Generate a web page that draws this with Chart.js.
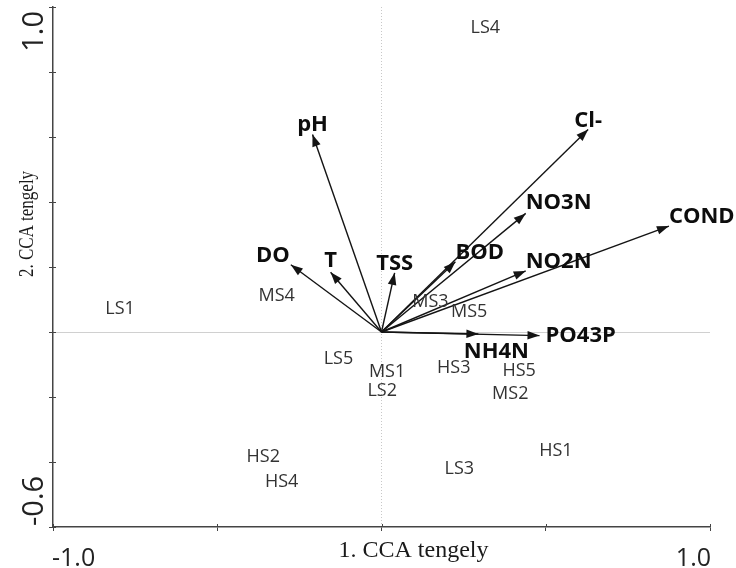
<!DOCTYPE html>
<html>
<head>
<meta charset="utf-8">
<title>CCA biplot</title>
<script src="https://cdn.jsdelivr.net/npm/chart.js@4/dist/chart.umd.min.js"></script>
<style>
  html, body { margin: 0; padding: 0; background: #fff; }
  #wrap { position: relative; width: 736px; height: 568px; }
</style>
</head>
<body>
<div id="wrap"><canvas id="cca"></canvas></div>
<script>
// environmental variables (arrow tips on CCA axis 1 / axis 2)
const envNames = ["pH", "DO", "T", "TSS", "BOD", "Cl-", "NO3N", "COND", "NO2N", "PO43P", "NH4N"];
const envAxis1 = [-0.210, -0.276, -0.155, 0.040, 0.225, 0.629, 0.439, 0.875, 0.439, 0.481, 0.295];
const envAxis2 = [0.608, 0.207, 0.184, 0.182, 0.216, 0.623, 0.365, 0.326, 0.188, -0.011, -0.006];

// sampling sites (scores on CCA axis 1 / axis 2)
const siteNames = ["LS4", "LS1", "MS4", "MS3", "MS5", "LS5", "MS1", "LS2", "HS3", "HS5", "MS2", "HS2", "HS4", "LS3", "HS1"];
const siteAxis1 = [0.316, -0.796, -0.319, 0.149, 0.267, -0.131, 0.017, 0.002, 0.220, 0.419, 0.392, -0.360, -0.304, 0.237, 0.531];
const siteAxis2 = [0.937, 0.071, 0.111, 0.092, 0.061, -0.083, -0.124, -0.182, -0.111, -0.121, -0.190, -0.385, -0.462, -0.421, -0.366];

// axis end labels
const xTickValues = [-1.0, 1.0];
const xTickLabels = ["-1.0", "1.0"];
const yTickValues = [-0.6, 1.0];
const yTickLabels = ["-0.6", "1.0"];
const xTitle = "1. CCA tengely";
const yTitle = "2. CCA tengely";

// where each arrow label sits relative to its tip: [align, dx, dy] (px, to baseline)
const envLabelPlace = [
  ["center", 0, -3], ["right", -1, -3], ["center", 0, -5], ["center", 0, -3],
  ["left", 0, -3], ["center", 0, -3], ["left", 0, -4], ["left", 0, -3],
  ["left", 0, -3], ["left", 6, 6], ["center", 18, 24],
];

const SANS = "'Open Sans', 'Noto Sans', sans-serif";
const SERIF = "'Liberation Serif', 'DejaVu Serif', serif";
const AXIS = "#444";

const isZero = (v) => Math.abs(v) < 1e-9;

const arrowDatasets = envNames.map((name, i) => ({
  label: name,
  data: [{ x: 0, y: 0 }, { x: envAxis1[i], y: envAxis2[i] }],
  showLine: true,
  arrow: true,
  borderColor: "#141414",
  borderWidth: 1.4,
  pointRadius: 0,
  pointHoverRadius: 0,
}));

const siteDataset = {
  label: "sites",
  data: siteNames.map((name, i) => ({ x: siteAxis1[i], y: siteAxis2[i] })),
  pointRadius: 0,
  pointHoverRadius: 0,
};

const biplotText = {
  id: "biplotText",
  afterDatasetsDraw(chart) {
    const ctx = chart.ctx;
    ctx.save();
    chart.data.datasets.forEach((ds, di) => {
      const meta = chart.getDatasetMeta(di);
      if (ds.arrow) {
        const a = meta.data[0];
        const b = meta.data[1];
        const ang = Math.atan2(b.y - a.y, b.x - a.x);
        const len = 12, half = 4.3;
        const bx = b.x - len * Math.cos(ang);
        const by = b.y - len * Math.sin(ang);
        ctx.fillStyle = "#141414";
        ctx.beginPath();
        ctx.moveTo(b.x, b.y);
        ctx.lineTo(bx - half * Math.sin(ang), by + half * Math.cos(ang));
        ctx.lineTo(bx + half * Math.sin(ang), by - half * Math.cos(ang));
        ctx.closePath();
        ctx.fill();

        const [align, dx, dy] = envLabelPlace[di];
        ctx.font = `bold 22px ${SANS}`;
        ctx.fillStyle = "#0d0d0d";
        ctx.textAlign = align;
        ctx.textBaseline = "alphabetic";
        ctx.fillText(ds.label, b.x + dx, b.y + dy);
      } else {
        ctx.font = `18px ${SANS}`;
        ctx.fillStyle = "#333";
        ctx.textAlign = "center";
        ctx.textBaseline = "middle";
        meta.data.forEach((pt, j) => ctx.fillText(siteNames[j], pt.x, pt.y));
      }
    });
    ctx.restore();
  },
  afterDraw(chart) {
    const ctx = chart.ctx;
    const xs = chart.scales.x;
    const ys = chart.scales.y;
    const area = chart.chartArea;
    ctx.save();

    // tick marks cross the axis: add the inner half
    ctx.strokeStyle = AXIS;
    ctx.lineWidth = 1;
    ctx.beginPath();
    xs.ticks.forEach((t) => {
      const px = Math.round(xs.getPixelForValue(t.value)) + 0.5;
      ctx.moveTo(px, area.bottom);
      ctx.lineTo(px, area.bottom - 3);
    });
    ys.ticks.forEach((t) => {
      const py = Math.round(ys.getPixelForValue(t.value)) + 0.5;
      ctx.moveTo(area.left, py);
      ctx.lineTo(area.left + 3, py);
    });
    ctx.stroke();

    ctx.fillStyle = "#222";

    // x axis end labels, pushed inward
    ctx.font = `25px ${SANS}`;
    ctx.textBaseline = "alphabetic";
    xTickValues.forEach((v, i) => {
      ctx.textAlign = i === 0 ? "left" : "right";
      ctx.fillText(xTickLabels[i], xs.getPixelForValue(v) + (i === 0 ? -1 : 1), 566);
    });

    // y axis end labels, rotated
    ctx.font = `29px ${SANS}`;
    yTickValues.forEach((v, i) => {
      ctx.save();
      ctx.translate(42.5, ys.getPixelForValue(v) + (i === 0 ? -1 : 4));
      ctx.rotate(-Math.PI / 2);
      ctx.textAlign = i === 0 ? "left" : "right";
      ctx.fillText(yTickLabels[i], 0, 0);
      ctx.restore();
    });

    // axis titles
    ctx.fillStyle = "#1a1a1a";
    ctx.font = `24px ${SERIF}`;
    ctx.textAlign = "center";
    ctx.fillText(xTitle, (xs.left + xs.right) / 2 + 32, 557);

    ctx.save();
    ctx.font = `20px ${SERIF}`;
    ctx.translate(32.5, (ys.top + ys.bottom) / 2 - 43);
    ctx.rotate(-Math.PI / 2);
    ctx.scale(0.85, 1);
    ctx.fillText(yTitle, 0, 0);
    ctx.restore();

    ctx.restore();
  },
};

new Chart(document.getElementById("cca"), {
  type: "scatter",
  data: { datasets: [...arrowDatasets, siteDataset] },
  options: {
    responsive: true,
    maintainAspectRatio: false,
    animation: false,
    events: [],
    layout: { padding: { left: 49, right: 26, top: 7, bottom: 37 } },
    plugins: { legend: { display: false }, tooltip: { enabled: false } },
    scales: {
      x: {
        type: "linear",
        min: -1,
        max: 1,
        ticks: { stepSize: 0.5, display: false },
        grid: {
          color: (c) => (isZero(c.tick.value) ? "#c8c8c8" : "rgba(0,0,0,0)"),
          lineWidth: 1,
          tickColor: AXIS,
          tickLength: 4,
        },
        border: { color: AXIS, width: 1.5, dash: [1, 2] },
      },
      y: {
        type: "linear",
        min: -0.6,
        max: 1,
        ticks: { stepSize: 0.2, display: false },
        grid: {
          color: (c) => (isZero(c.tick.value) ? "#d0d0d0" : "rgba(0,0,0,0)"),
          lineWidth: 1,
          tickColor: AXIS,
          tickLength: 4,
        },
        border: { color: AXIS, width: 1.5 },
      },
    },
  },
  plugins: [biplotText],
});
</script>
</body>
</html>
